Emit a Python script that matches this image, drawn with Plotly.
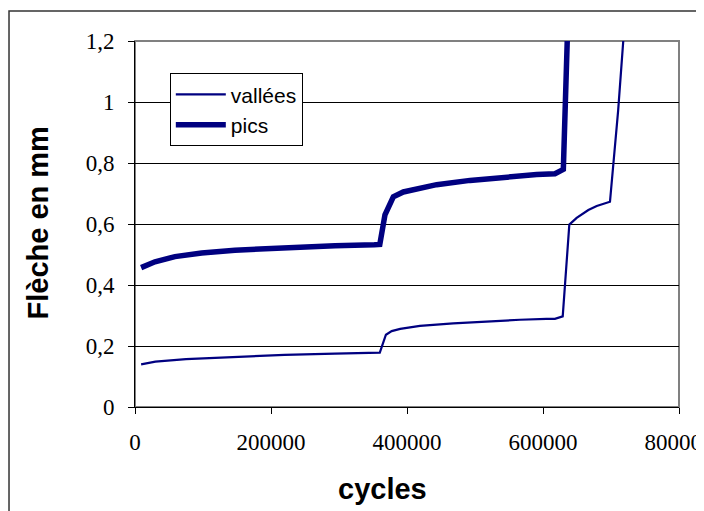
import plotly.graph_objects as go

# vallées (thin line)
vallees_x = [9000, 30000, 75000, 147000, 220000, 294000, 345000, 360000,
             369000, 377500, 390000, 419000, 468000, 517000, 566000, 605000,
             617500, 629000, 638700, 649500, 666700, 679000, 698500, 710500, 720000]
vallees_y = [0.140, 0.149, 0.157, 0.165, 0.171, 0.175, 0.177, 0.178,
             0.237, 0.249, 0.256, 0.266, 0.274, 0.281, 0.286, 0.289,
             0.289, 0.297, 0.598, 0.620, 0.646, 0.659, 0.673, 0.972, 1.26]

# pics (thick line)
pics_x = [9000, 29400, 58800, 98000, 147000, 196000, 245000, 294000, 352000, 360000,
          367600, 379900, 394600, 419100, 443600, 492600, 541700, 590700, 617600,
          629900, 637000]
pics_y = [0.457, 0.476, 0.493, 0.505, 0.514, 0.520, 0.525, 0.529, 0.532, 0.533,
          0.630, 0.689, 0.705, 0.719, 0.729, 0.743, 0.754, 0.762, 0.765,
          0.779, 1.30]

x_title = "cycles"
y_title = "Flèche en mm"

navy = "#000080"

fig = go.Figure()
fig.add_trace(go.Scatter(x=vallees_x, y=vallees_y, mode="lines", name="vallées",
                         line=dict(color=navy, width=2.2), legendgroup="a"))
fig.add_trace(go.Scatter(x=pics_x, y=pics_y, mode="lines", name="pics",
                         line=dict(color=navy, width=5.5), legendgroup="b"))

tick_font = dict(family="Liberation Serif, Times New Roman, serif", size=23, color="black")

# the page body has an 8px margin, so the figure is shifted by 8px right/down
fig.update_layout(
    width=704, height=511,
    margin=dict(l=127, r=33, t=33, b=112),
    paper_bgcolor="white", plot_bgcolor="white",
    separators=", ",
    showlegend=True,
    legend=dict(x=0.064, y=0.912, xanchor="left", yanchor="top",
                bgcolor="white", bordercolor="black", borderwidth=1,
                font=dict(family="Liberation Sans, Arial, sans-serif", size=21, color="black"),
                tracegroupgap=0, itemwidth=50),
    xaxis=dict(range=[0, 800000], dtick=200000, tick0=0, tickformat="d", automargin=False,
               showgrid=False, zeroline=False, showline=True, linecolor="black", linewidth=1,
               ticks="outside", ticklen=6, tickcolor="black", tickfont=tick_font,
               ticklabeloverflow="allow", ticklabelstandoff=8),
    yaxis=dict(range=[0, 1.2], dtick=0.2, tick0=0, automargin=False,
               showgrid=True, gridcolor="black", gridwidth=1, zeroline=False,
               showline=True, linecolor="black", linewidth=1,
               ticks="outside", ticklen=6, tickcolor="black", tickfont=tick_font,
               ticklabelstandoff=9),
    shapes=[
        dict(type="rect", xref="paper", yref="paper", x0=0, x1=1, y0=0, y1=1,
             line=dict(color="#808080", width=2), layer="below"),
        dict(type="rect", xref="paper", yref="paper", x0=-0.2316, x1=1.3, y0=-0.6, y1=1.082,
             line=dict(color="#333333", width=1.5), layer="below"),
    ],
    annotations=[
        dict(text=x_title, xref="paper", yref="paper", x=(382 - 135) / 544, y=(407 - 489) / 366,
             xanchor="center", yanchor="middle", showarrow=False,
             font=dict(family="Liberation Sans, Arial, sans-serif", size=29, color="black", weight="bold")),
        dict(text=y_title, xref="paper", yref="paper", x=(37.5 - 135) / 544, y=(407 - 223) / 366,
             xanchor="center", yanchor="middle", showarrow=False, textangle=-90,
             font=dict(family="Liberation Sans, Arial, sans-serif", size=29, color="black", weight="bold")),
    ],
)

fig.write_html("out.html")
